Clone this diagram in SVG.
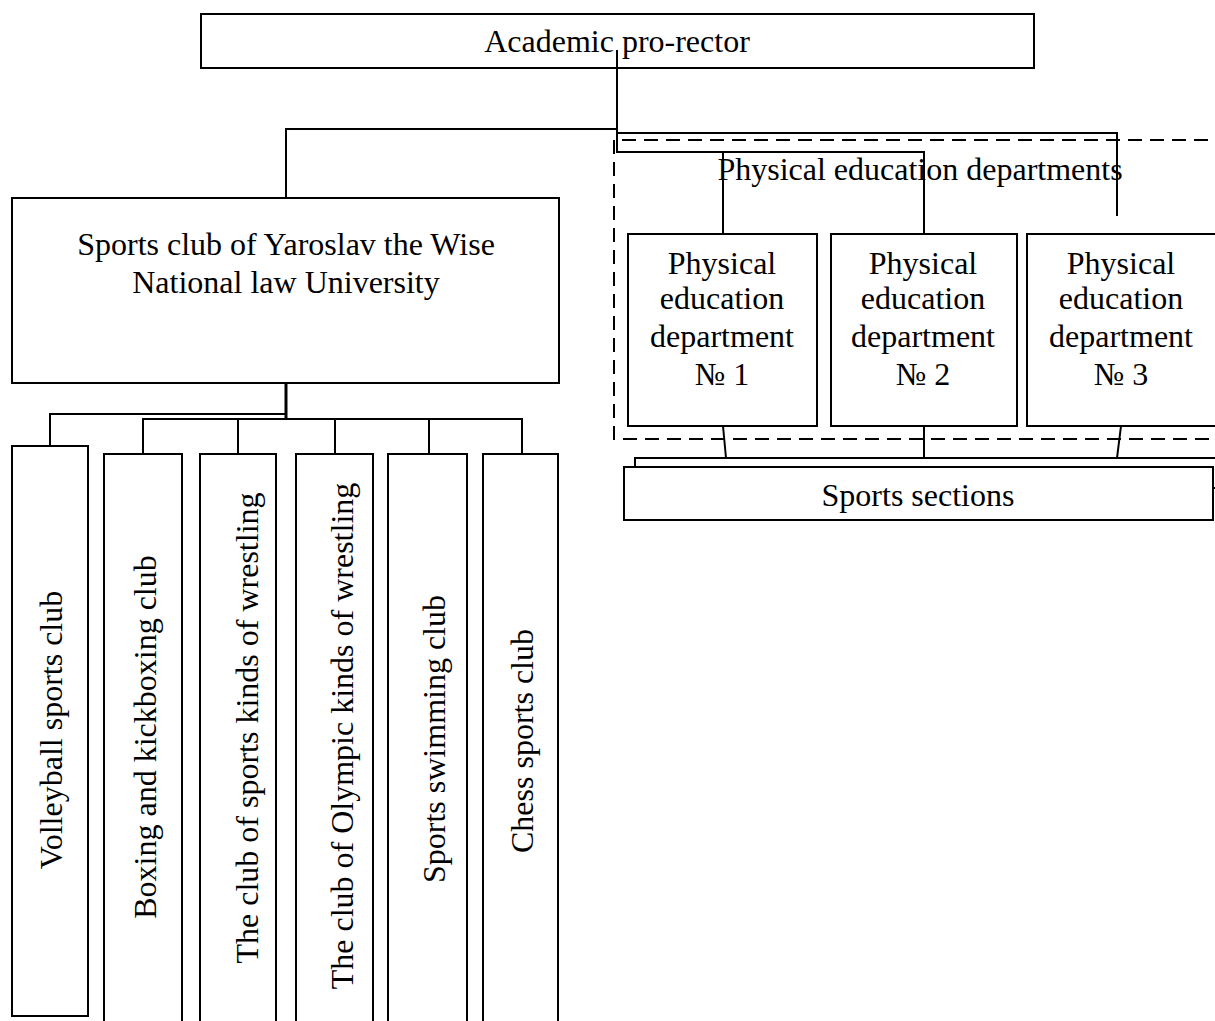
<svg xmlns="http://www.w3.org/2000/svg" width="1215" height="1021" viewBox="0 0 1215 1021">
<style>
.box{fill:#fff;stroke:#000;stroke-width:2}
.ln{fill:none;stroke:#000;stroke-width:2}
.dash{fill:none;stroke:#000;stroke-width:2;stroke-dasharray:14 8}
text{font-family:"Liberation Serif","Times New Roman",serif;font-size:32px;fill:#000;text-anchor:middle}
</style>
<rect width="1215" height="1021" fill="#fff"/>
<g id="connectors">
<polyline class="ln" points="617,50 617,152 924,152 924,234"/>
<line class="ln" x1="723" y1="152" x2="723" y2="234"/>
<polyline class="ln" points="617,133 1117,133 1117,216"/>
<polyline class="ln" points="617,129 286,129 286,197"/>
<line class="ln" x1="723" y1="426" x2="726" y2="458"/>
<line class="ln" x1="924" y1="426" x2="924" y2="458"/>
<line class="ln" x1="1121" y1="426" x2="1117" y2="458"/>
<line class="ln" x1="286" y1="383" x2="286" y2="419" style="stroke-width:3"/>
<polyline class="ln" points="286,414 50,414 50,446"/>
<polyline class="ln" points="143,454 143,419 522,419 522,454"/>
<line class="ln" x1="238" y1="419" x2="238" y2="454"/>
<line class="ln" x1="335" y1="419" x2="335" y2="454"/>
<line class="ln" x1="429" y1="419" x2="429" y2="454"/>
</g>
<g id="group-pe">
<path class="dash" d="M1230,140 H614 V439 H1230"/>
<text x="920" y="180">Physical education departments</text>
</g>
<g id="rector">
<rect class="box" x="201" y="14" width="833" height="54" style="fill:none"/>
<text x="617" y="52">Academic pro-rector</text>
</g>
<g id="sports-club">
<rect class="box" x="12" y="198" width="547" height="185"/>
<text x="286" y="255">Sports club of Yaroslav the Wise</text>
<text x="286" y="293">National law University</text>
</g>
<g id="dept1">
<rect class="box" x="628" y="234" width="189" height="192"/>
<text x="722" y="274">Physical</text>
<text x="722" y="309">education</text>
<text x="722" y="347">department</text>
<text x="722" y="385">№ 1</text>
</g>
<g id="dept2">
<rect class="box" x="831" y="234" width="186" height="192"/>
<text x="923" y="274">Physical</text>
<text x="923" y="309">education</text>
<text x="923" y="347">department</text>
<text x="923" y="385">№ 2</text>
</g>
<g id="dept3">
<rect class="box" x="1027" y="234" width="200" height="192"/>
<text x="1121" y="274">Physical</text>
<text x="1121" y="309">education</text>
<text x="1121" y="347">department</text>
<text x="1121" y="385">№ 3</text>
</g>
<g id="sports-sections">
<rect class="box" x="635" y="458" width="600" height="30"/>
<rect class="box" x="624" y="467" width="589" height="53"/>
<text x="918" y="506">Sports sections</text>
</g>
<g id="club-volleyball">
<rect class="box" x="12" y="446" width="76" height="570"/>
<text transform="translate(62,730) rotate(-90)">Volleyball sports club</text>
</g>
<g id="club-boxing">
<rect class="box" x="104" y="454" width="78" height="600"/>
<text transform="translate(156,737) rotate(-90)">Boxing and kickboxing club</text>
</g>
<g id="club-sports-wrestling">
<rect class="box" x="200" y="454" width="76" height="600"/>
<text transform="translate(258,728) rotate(-90)">The club of sports kinds of wrestling</text>
</g>
<g id="club-olympic-wrestling">
<rect class="box" x="296" y="454" width="77" height="600"/>
<text transform="translate(353,736) rotate(-90)">The club of Olympic kinds of wrestling</text>
</g>
<g id="club-swimming">
<rect class="box" x="388" y="454" width="79" height="600"/>
<text transform="translate(445,739) rotate(-90)">Sports swimming club</text>
</g>
<g id="club-chess">
<rect class="box" x="483" y="454" width="75" height="600"/>
<text transform="translate(533,741) rotate(-90)">Chess sports club</text>
</g>
</svg>
